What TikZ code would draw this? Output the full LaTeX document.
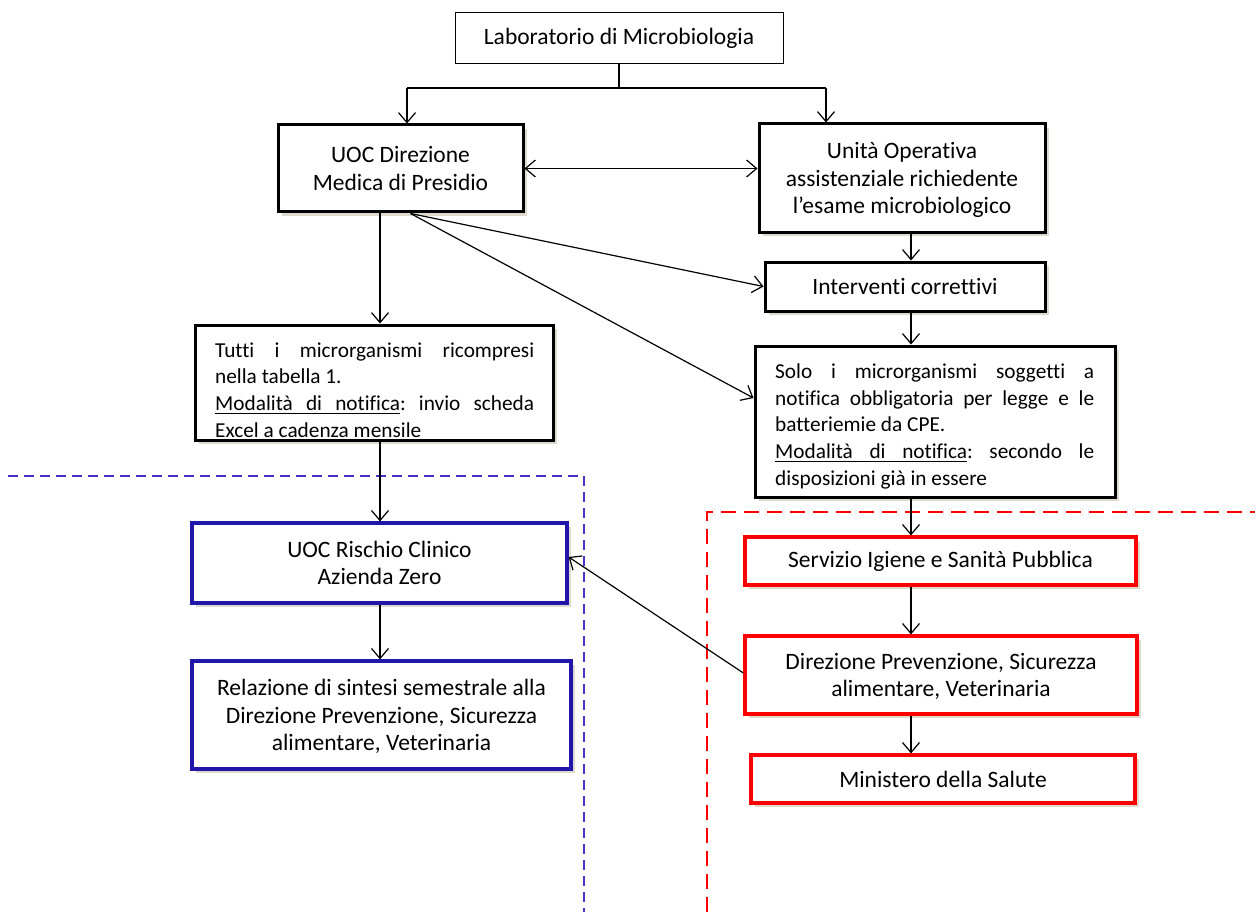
\documentclass[tikz,border=0pt]{standalone}
\usepackage{fontspec}
\setmainfont{Carlito}[Ligatures=NoCommon]
\usetikzlibrary{arrows.meta,shadows}
\definecolor{shadowc}{RGB}{222,219,206}
\definecolor{bluebox}{RGB}{34,22,170}
\definecolor{bluedash}{RGB}{70,50,200}
\newcommand{\ulw}[1]{\setbox0\hbox{#1}\rlap{\rule[-3.4pt]{\wd0}{1.1pt}}\box0}
\newcommand{\ulsp}{\leaders\hrule height -2.3pt depth 3.4pt\hskip\fontdimen2\font plus\fontdimen3\font minus\fontdimen4\font}
\newcommand{\modnot}{\ulw{Modalità}\ulsp\ulw{di}\ulsp\ulw{notifica}}
\frenchspacing
\begin{document}
\begin{tikzpicture}[x=1pt,y=-1pt,
  base/.style={rectangle, inner sep=0pt, align=center,
    font=\fontsize{23.5}{27.5}\selectfont, fill=white},
  mline/.style={text depth=-5pt},
  shad/.style={drop shadow={shadow xshift=4pt, shadow yshift=-4pt, fill=shadowc, opacity=1}},
  thinbox/.style={base, draw=black, line width=1pt},
  blkbox/.style={base, shad, draw=black, line width=3pt},
  blubox/.style={base, shad, draw=bluebox, line width=3.2pt},
  redbox/.style={base, shad, draw=red, line width=3.2pt},
  jtext/.style={inner sep=0pt, text width=319pt, align=justify,
    font=\fontsize{21.3}{26.6}\selectfont\frenchspacing, anchor=north west,
    execute at begin node={\rule{0pt}{20pt}}},
  arr/.style={line width=1.2pt, -{Straight Barb[length=10pt,width=17pt]}},
  dblarr/.style={line width=1.2pt, {Straight Barb[length=10pt,width=17pt]}-{Straight Barb[length=10pt,width=17pt]}},
  ln/.style={line width=1.2pt},
  bluezone/.style={draw=bluedash, line width=1.1pt, dash pattern=on 10pt off 6pt},
  redzone/.style={draw=red, line width=1.8pt, dash pattern=on 15pt off 8pt}
]
\useasboundingbox (0,0) rectangle (1255,912);

% zones
\draw[bluezone] (8,476) -- (584,476) -- (584,912);
\draw[redzone] (707,912) -- (707,512) -- (1255,512);

% nodes
\node[thinbox, minimum width=328pt, minimum height=51pt] (lab) at (619,38.5) {Laboratorio di Microbiologia};
\node[blkbox, mline, minimum width=245pt, minimum height=87pt] (dir) at (400.5,168.5) {UOC Direzione\\Medica di Presidio};
\node[blkbox, mline, minimum width=286pt, minimum height=108pt] (uo) at (902,178) {Unità Operativa\\assistenziale richiedente\\l’esame microbiologico};
\node[blkbox, minimum width=280pt, minimum height=49pt] (int) at (905,286.5) {Interventi correttivi};
\node[blkbox, minimum width=358pt, minimum height=115pt] (tutti) at (374,382.5) {};
\node[jtext] (tuttitxt) at (215,337) {Tutti i microrganismi ricompresi\linebreak nella tabella 1.\\\modnot: invio scheda\linebreak Excel a cadenza mensile};
\node[blkbox, minimum width=360pt, minimum height=151pt] (solo) at (935,421.5) {};
\node[jtext] (solotxt) at (775,358.5) {Solo i microrganismi soggetti a\linebreak notifica obbligatoria per legge e le\linebreak batteriemie da CPE.\\\modnot: secondo le\linebreak disposizioni già in essere};
\node[blubox, mline, minimum width=375pt, minimum height=80pt] (ris) at (379.5,563) {UOC Rischio Clinico\\Azienda Zero};
\node[blubox, mline, minimum width=379pt, minimum height=108pt] (rel) at (381.5,715) {Relazione di sintesi semestrale alla\\Direzione Prevenzione, Sicurezza\\alimentare, Veterinaria};
\node[redbox, minimum width=391pt, minimum height=48pt] (serv) at (940.5,561) {Servizio Igiene e Sanità Pubblica};
\node[redbox, mline, minimum width=392pt, minimum height=78pt] (dp) at (941,675) {Direzione Prevenzione, Sicurezza\\alimentare, Veterinaria};
\node[redbox, minimum width=384pt, minimum height=48pt] (min) at (943,779) {Ministero della Salute};

% helper coordinates
\coordinate (jl) at (407,88);
\coordinate (jr) at (826,88);
\coordinate (cx) at (911,0);
\coordinate (lx) at (380,0);

% connectors
\draw[ln] (lab.south) -- (lab.south |- jl);
\draw[ln] (jl) -- (jr);
\draw[arr] (jl) -- (jl |- dir.north);
\draw[arr] (jr) -- (jr |- uo.north);
\draw[dblarr] (dir.east) -- (dir.east -| uo.west);
\draw[arr] (uo.south -| cx) -- (int.north -| cx);
\draw[arr] (int.south -| cx) -- (solo.north -| cx);
\draw[arr] (dir.south -| lx) -- (tutti.north -| lx);
\draw[arr] ([xshift=10pt]dir.south) -- (int.west);
\draw[arr] ([xshift=10pt]dir.south) -- ([yshift=23.5pt]solo.west);
\draw[arr] (tutti.south -| lx) -- (ris.north -| lx);
\draw[arr] (ris.south -| lx) -- (rel.north -| lx);
\draw[arr] (solo.south -| cx) -- (serv.north -| cx);
\draw[arr] (serv.south -| cx) -- (dp.north -| cx);
\draw[arr] (dp.south -| cx) -- (min.north -| cx);
\draw[arr] ([yshift=2pt]dp.west) -- ([yshift=6pt]ris.east);
\end{tikzpicture}
\end{document}
